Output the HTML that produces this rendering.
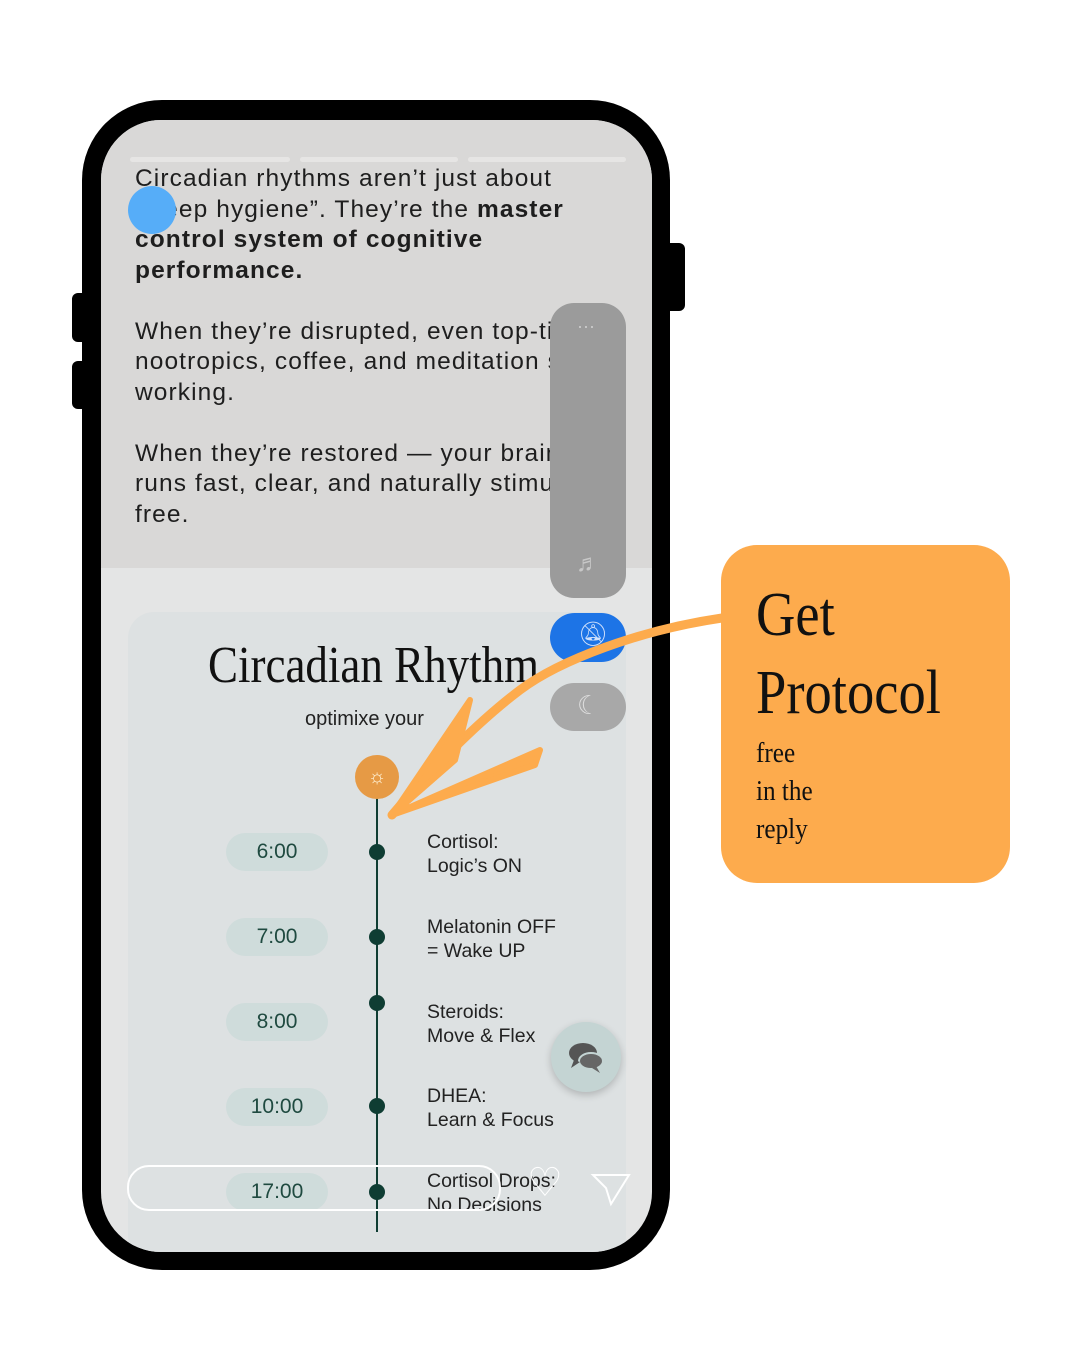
<!DOCTYPE html>
<html><head><meta charset="utf-8"><style>
body{margin:0;width:1080px;height:1350px;background:#fff;position:relative;overflow:hidden;font-family:"Liberation Sans",sans-serif}
.a{position:absolute}
.t{font-size:24.5px;line-height:30.5px;color:#1e1e1e;letter-spacing:1.1px;white-space:nowrap}
.pill{position:absolute;left:226px;width:102px;height:38px;border-radius:19px;background:#cfdcdb;color:#1f4a40;font-size:21px;text-align:center;line-height:38px}
.dot{position:absolute;left:369px;width:16px;height:16px;border-radius:50%;background:#0f3d33}
.lab{position:absolute;left:427px;font-size:19.5px;line-height:24px;color:#222}
</style></head><body>
<div class="a" style="left:670px;top:243px;width:15px;height:68px;background:#000;border-radius:0 6px 6px 0"></div>
<div class="a" style="left:72px;top:293px;width:12px;height:49px;background:#000;border-radius:6px 0 0 6px"></div>
<div class="a" style="left:72px;top:361px;width:12px;height:48px;background:#000;border-radius:6px 0 0 6px"></div>
<div class="a" style="left:82px;top:100px;width:588px;height:1170px;background:#000;border-radius:80px"></div>
<div class="a" style="left:101px;top:120px;width:551px;height:1132px;background:#e4e5e5;border-radius:60px;overflow:hidden">
 <div class="a" style="left:0;top:0;width:551px;height:448px;background:#d9d8d7"></div>
 <div class="a" style="left:29px;top:37px;width:160px;height:5px;background:#e6e5e4;border-radius:3px"></div>
 <div class="a" style="left:199px;top:37px;width:158px;height:5px;background:#e6e5e4;border-radius:3px"></div>
 <div class="a" style="left:367px;top:37px;width:158px;height:5px;background:#e6e5e4;border-radius:3px"></div>
 <div class="a" style="left:27px;top:492px;width:498px;height:650px;background:#dde1e2;border-radius:26px"></div>
</div>
<div class="a t" style="left:135px;top:164px">Circadian rhythms aren’t just about<br>“sleep hygiene”. They’re the <b>master</b><br><b>control system of cognitive</b><br><b>performance.</b><br><br>When they’re disrupted, even top-tier<br>nootropics, coffee, and meditation stop<br>working.<br><br>When they’re restored — your brain<br>runs fast, clear, and naturally stimulant-<br>free.</div>
<div class="a" style="left:128px;top:186px;width:48px;height:48px;border-radius:50%;background:#56adf8"></div>
<div class="a" style="left:550px;top:303px;width:76px;height:295px;background:#9b9b9b;border-radius:24px"></div>
<div class="a" style="left:577px;top:316px;color:#ccc;font-size:18px">···</div>
<div class="a" style="left:576px;top:550px;color:#c8c8c8;font-size:24px">♬</div>
<div class="a" style="left:550px;top:613px;width:76px;height:49px;background:#1d74e6;border-radius:25px"></div>
<div class="a" style="left:578px;top:620px;color:#cfe0fb;font-size:24px">🔕︎</div>
<div class="a" style="left:550px;top:683px;width:76px;height:48px;background:#a8a8a8;border-radius:24px"></div>
<div class="a" style="left:577px;top:690px;color:#ddd;font-size:26px">☾</div>
<div class="a" style="left:208px;top:636px;white-space:nowrap;font-family:'Liberation Serif',serif;font-size:52px;color:#111;transform:scaleX(0.865);transform-origin:left top">Circadian Rhythm</div>
<div class="a" style="left:305px;top:708px;font-size:20px;color:#222">optimixe your</div>
<div class="a" style="left:376px;top:790px;width:2px;height:442px;background:#0f3d33"></div>
<div class="a" style="left:355px;top:755px;width:44px;height:44px;border-radius:50%;background:#e69a45;color:#fff3d8;text-align:center;line-height:44px;font-size:20px">☼</div>
<div class="pill" style="top:833px">6:00</div><div class="dot" style="top:844px"></div>
<div class="lab" style="top:830px">Cortisol:<br>Logic’s ON</div>
<div class="pill" style="top:918px">7:00</div><div class="dot" style="top:929px"></div>
<div class="lab" style="top:915px">Melatonin OFF<br>= Wake UP</div>
<div class="pill" style="top:1003px">8:00</div><div class="dot" style="top:995px"></div>
<div class="lab" style="top:1000px">Steroids:<br>Move &amp; Flex</div>
<div class="pill" style="top:1088px">10:00</div><div class="dot" style="top:1098px"></div>
<div class="lab" style="top:1084px">DHEA:<br>Learn &amp; Focus</div>
<div class="pill" style="top:1173px">17:00</div><div class="dot" style="top:1184px"></div>
<div class="lab" style="top:1169px">Cortisol Drops:<br>No Decisions</div>
<div class="a" style="left:551px;top:1022px;width:70px;height:70px;border-radius:50%;background:#c4d4d3;box-shadow:0 3px 8px rgba(0,0,0,.2)"></div>
<svg class="a" style="left:566px;top:1040px" width="42" height="36"><ellipse cx="17" cy="13" rx="14" ry="10" fill="#555"/><ellipse cx="25" cy="21" rx="12" ry="8" fill="#666" stroke="#c4d4d3" stroke-width="2"/><path d="M8 20L5 28L14 22Z" fill="#555"/><path d="M30 26L34 33L26 28Z" fill="#666"/></svg>
<div class="a" style="left:127px;top:1165px;width:370px;height:42px;border:2px solid #fff;border-radius:22px"></div>
<div class="a" style="left:527px;top:1160px;color:#fff;font-size:40px">♡</div>
<svg class="a" style="left:590px;top:1172px" width="42" height="36"><path d="M3 3L39 3L21 32L16 16Z" fill="none" stroke="#fff" stroke-width="2"/></svg>
<svg class="a" style="left:0;top:0" width="1080" height="1350">
<path d="M722 618 C640 630 560 660 520 690 C480 720 430 770 392 815" fill="none" stroke="#fdab4d" stroke-width="9" stroke-linecap="round"/>
<path d="M392 815 L470 700 L455 760 Z M392 815 L540 750 L535 765 Z" fill="#fdab4d" stroke="#fdab4d" stroke-width="6" stroke-linejoin="round"/>
</svg>
<div class="a" style="left:721px;top:545px;width:289px;height:338px;background:#fdab4d;border-radius:36px"></div>
<div class="a" style="left:756px;top:576px;font-family:'Liberation Serif',serif;font-size:62px;line-height:78px;color:#111;transform:scaleX(0.88);transform-origin:left top">Get<br>Protocol</div>
<div class="a" style="left:756px;top:735px;font-family:'Liberation Serif',serif;font-size:28px;line-height:38px;color:#111;transform:scaleX(0.9);transform-origin:left top">free<br>in the<br>reply</div>
</body></html>
